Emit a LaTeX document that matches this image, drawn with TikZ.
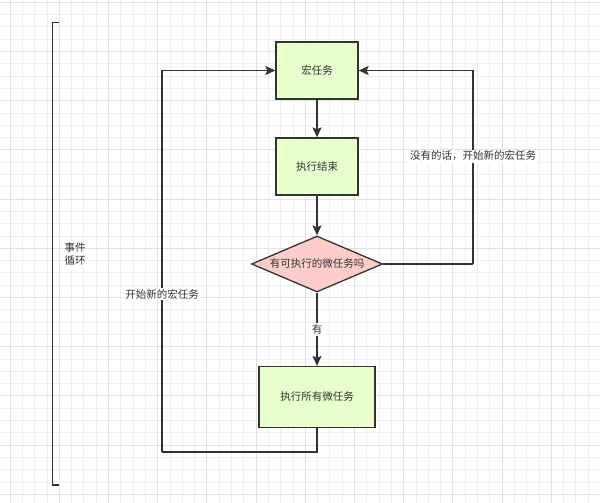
\documentclass[tikz,border=0pt]{standalone}
\usepackage{fontspec}
\newfontfamily\cjk{Noto Sans CJK SC}
\usetikzlibrary{shapes.geometric,arrows.meta}
\definecolor{ln}{HTML}{333333}
\definecolor{txt}{HTML}{333333}
\definecolor{gfill}{HTML}{E6FFCC}
\definecolor{pfill}{HTML}{FFCCCC}
\definecolor{gridminor}{HTML}{EFEFEF}
\definecolor{gridmajor}{HTML}{E2E2E2}
\begin{document}
\begin{tikzpicture}[x=1pt,y=-1pt,
  every node/.style={font=\cjk\fontsize{10.5}{13}\selectfont, text=txt},
  box/.style={draw=ln, line width=1.3pt, fill=gfill, minimum width=#1, inner sep=0pt},
  dia/.style={diamond, draw=ln, line width=1.3pt, fill=pfill, minimum width=131pt, minimum height=56pt, inner sep=0pt, aspect=2.34},
  arr/.style={draw=ln, line width=1.3pt, -{Stealth[length=10pt,width=9pt,inset=2pt]}},
  conn/.style={draw=ln, line width=1.3pt},
  lbl/.style={fill=white, inner sep=1.5pt}
]
\useasboundingbox (0,0) rectangle (600,503);
\fill[white] (0,0) rectangle (600,503);
% grid
\foreach \i in {0,...,48} {
  \pgfmathsetmacro{\xx}{10+12.3*\i}
  \pgfmathtruncatemacro{\m}{mod(\i,4)}
  \ifnum\m=0 \draw[gridmajor, line width=0.8pt] (\xx,0) -- (\xx,503);
  \else \draw[gridminor, line width=0.7pt] (\xx,0) -- (\xx,503); \fi
}
\foreach \i in {0,...,40} {
  \pgfmathsetmacro{\yy}{2.2+12.3*\i}
  \pgfmathtruncatemacro{\m}{mod(\i,4)}
  \ifnum\m=0 \draw[gridmajor, line width=0.8pt] (0,\yy) -- (600,\yy);
  \else \draw[gridminor, line width=0.7pt] (0,\yy) -- (600,\yy); \fi
}
% bracket
\coordinate (bt1) at (59.3,22.7);
\coordinate (bt2) at (52.7,22.7);
\coordinate (bb2) at (52.7,485);
\coordinate (bb1) at (59.3,485);
\draw[conn] (bt1) -- (bt2) -- (bb2) -- (bb1);
\node[align=left, anchor=west] (loop) at (61,254.5) {事件\\循环};
% nodes
\node[box=82pt, minimum height=57pt] (macro) at (317,70.5) {宏任务};
\node[box=82pt, minimum height=57pt] (done) at (317,166.5) {执行结束};
\node[dia] (q) at (317,264) {有可执行的微任务吗};
\node[box=116pt, minimum height=61pt] (micro) at (317,397) {执行所有微任务};
% connectors
\draw[arr] (macro) -- (done);
\draw[arr] (done) -- (q);
\draw[arr] (q) -- node[lbl] (yes) {有} (micro);
\coordinate (bl) at (317,452);
\coordinate (bll) at (162,452);
\coordinate (tl) at (162,70.5);
\draw[conn] (micro.south) -- (bl) -- (bll);
\draw[arr] (bll) -- node[lbl, pos=0.414] (newl) {开始新的宏任务} (tl) -- (macro.west);
\coordinate (rr) at (473,264);
\coordinate (rt) at (473,70.5);
\draw[conn] (q.east) -- (rr);
\draw[arr] (rr) -- node[lbl, pos=0.558] (newr) {没有的话，开始新的宏任务} (rt) -- (macro.east);
\end{tikzpicture}
\end{document}
